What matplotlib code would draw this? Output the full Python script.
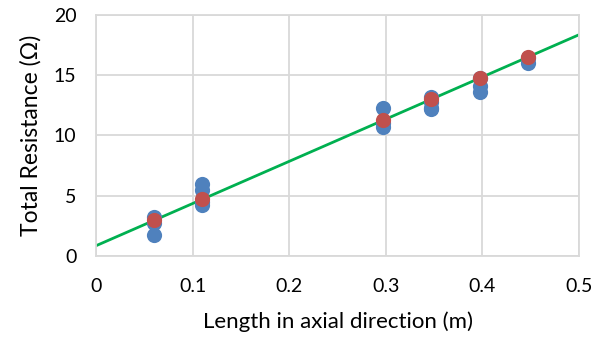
import numpy as np
import matplotlib.pyplot as plt

plt.rcParams['font.family'] = ['Lato', 'DejaVu Sans']

# measured points (blue)
x_meas = [0.06, 0.06, 0.06, 0.11, 0.11, 0.11, 0.11,
          0.297, 0.297, 0.297, 0.347, 0.347, 0.347, 0.347,
          0.397, 0.397, 0.397, 0.447, 0.447]
y_meas = [3.25, 2.7, 1.75, 6.0, 5.5, 4.5, 4.2,
          12.3, 11.0, 10.7, 13.2, 12.8, 12.3, 12.15,
          14.8, 14.1, 13.6, 16.4, 16.0]

# mean points (red)
x_mean = [0.06, 0.11, 0.297, 0.347, 0.397, 0.447]
y_mean = [3.0, 4.75, 11.3, 13.0, 14.75, 16.5]

# fit line
fit_x = [0.0, 0.5]
fit_y = [0.85, 18.35]

fig = plt.figure(figsize=(6.13, 3.45), dpi=100)
ax = fig.add_axes([0.1566, 0.258, 0.788, 0.699])

ax.plot(fit_x, fit_y, color='#00B050', lw=2, zorder=2)
ax.scatter(x_meas, y_meas, s=120, color='#4F81BD', zorder=3, linewidths=0)
ax.scatter(x_mean, y_mean, s=120, color='#C0504D', zorder=4, linewidths=0)

ax.set_xlim(0, 0.5)
ax.set_ylim(0, 20)
ax.set_xticks([0, 0.1, 0.2, 0.3, 0.4, 0.5])
ax.set_xticklabels(['0', '0.1', '0.2', '0.3', '0.4', '0.5'])
ax.set_yticks([0, 5, 10, 15, 20])
ax.grid(True, color='#D9D9D9', lw=1.3)
ax.set_axisbelow(True)
for s in ax.spines.values():
    s.set_color('#D9D9D9')
    s.set_linewidth(1.3)
ax.tick_params(length=0, labelsize=14)
ax.tick_params(axis='x', pad=16)
ax.tick_params(axis='y', pad=14)

ax.set_xlabel('Length in axial direction (m)', fontsize=16, labelpad=12)
ax.set_ylabel('Total Resistance (Ω)', fontsize=16.5, labelpad=9)

fig.savefig('out.png')
